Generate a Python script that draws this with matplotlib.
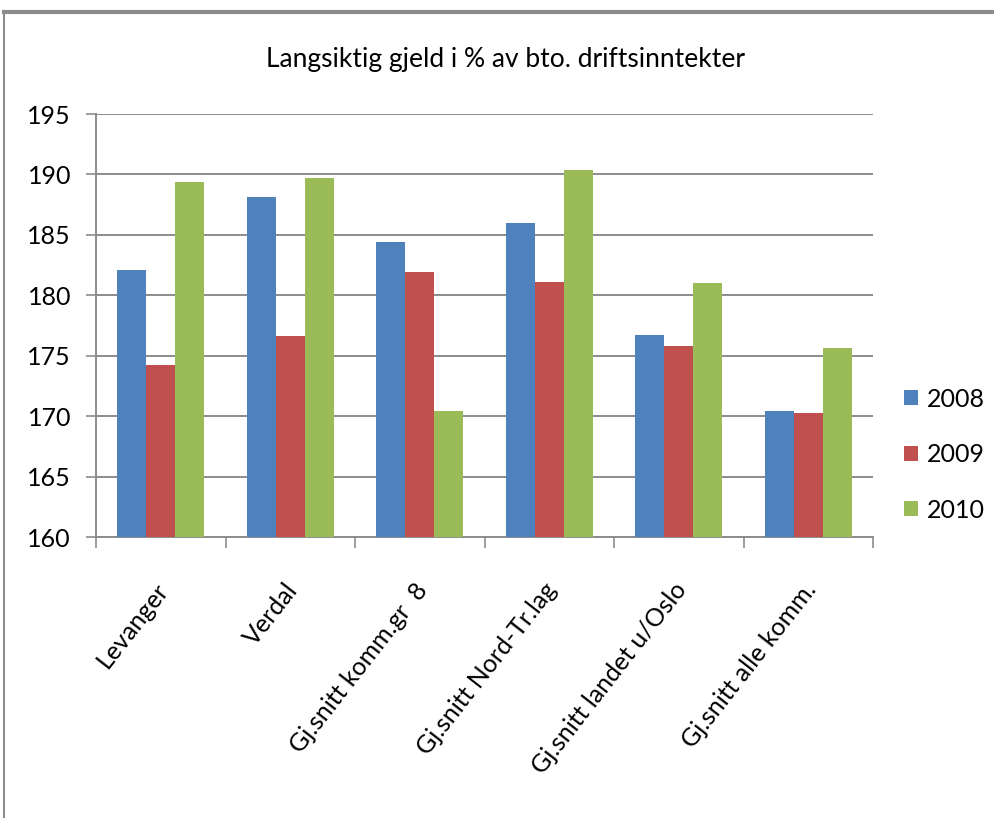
import numpy as np
import matplotlib
matplotlib.use("Agg")
import matplotlib.pyplot as plt
from matplotlib.lines import Line2D
from matplotlib.transforms import ScaledTranslation

plt.rcParams['font.family'] = ['Lato', 'DejaVu Sans']

# data
categories = ['Levanger', 'Verdal', 'Gj.snitt komm.gr  8', 'Gj.snitt Nord-Tr.lag',
              'Gj.snitt landet u/Oslo', 'Gj.snitt alle komm.']
years = ['2008', '2009', '2010']
v2008 = [182.1, 188.1, 184.4, 186.0, 176.7, 170.4]
v2009 = [174.2, 176.6, 181.9, 181.1, 175.8, 170.3]
v2010 = [189.4, 189.7, 170.4, 190.4, 181.0, 175.6]
colors = ['#4F81BD', '#C0504D', '#9BBB59']

fig = plt.figure(figsize=(9.95, 8.18), dpi=100)
ax = fig.add_axes([0.0965, 0.3435, 0.7809, 0.5171])

x = np.arange(len(categories))
w = 0.225
for i, (vals, col, yr) in enumerate(zip([v2008, v2009, v2010], colors, years)):
    ax.bar(x + (i - 1) * w, np.array(vals) - 160, width=w, bottom=160,
           color=col, label=yr, zorder=3)

ax.set_ylim(160, 195)
ax.set_xlim(-0.5, len(categories) - 0.5)
ax.set_yticks(np.arange(160, 196, 5))
ax.yaxis.grid(True, color='#8c8c8c', linewidth=1.4, zorder=0)
ax.tick_params(axis='y', labelsize=18, length=7, width=1.2, color='#8c8c8c', pad=11)

ax.set_xticks(x)
ax.set_xticklabels(categories, rotation=52, ha='right', rotation_mode='anchor',
                   fontsize=18)
ax.tick_params(axis='x', length=0, pad=30)
ax.set_xticks(np.arange(-0.5, len(categories), 1), minor=True)
ax.tick_params(axis='x', which='minor', length=8, color='#8c8c8c', width=1.2)
shift = ScaledTranslation(-6 / 100, 0, fig.dpi_scale_trans)
for lbl in ax.get_xticklabels():
    lbl.set_transform(lbl.get_transform() + shift)

for s in ['top', 'right']:
    ax.spines[s].set_visible(False)
for s in ['left', 'bottom']:
    ax.spines[s].set_color('#8c8c8c')
    ax.spines[s].set_linewidth(1.4)

fig.text(0.508, 0.927, 'Langsiktig gjeld i % av bto. driftsinntekter',
         ha='center', va='center', fontsize=19)

ax.legend(loc='center left', bbox_to_anchor=(1.04, 0.195), frameon=False,
          fontsize=18, handlelength=0.55, handleheight=0.55, labelspacing=1.3,
          handletextpad=0.35, borderpad=0, borderaxespad=0)

# chart frame
fig.add_artist(Line2D([0.004, 1.0], [0.985, 0.985], color='#8c8c8c', linewidth=3))
fig.add_artist(Line2D([0.004, 0.004], [0.0, 0.985], color='#8c8c8c', linewidth=1.5))

fig.savefig('out.png', dpi=100)
